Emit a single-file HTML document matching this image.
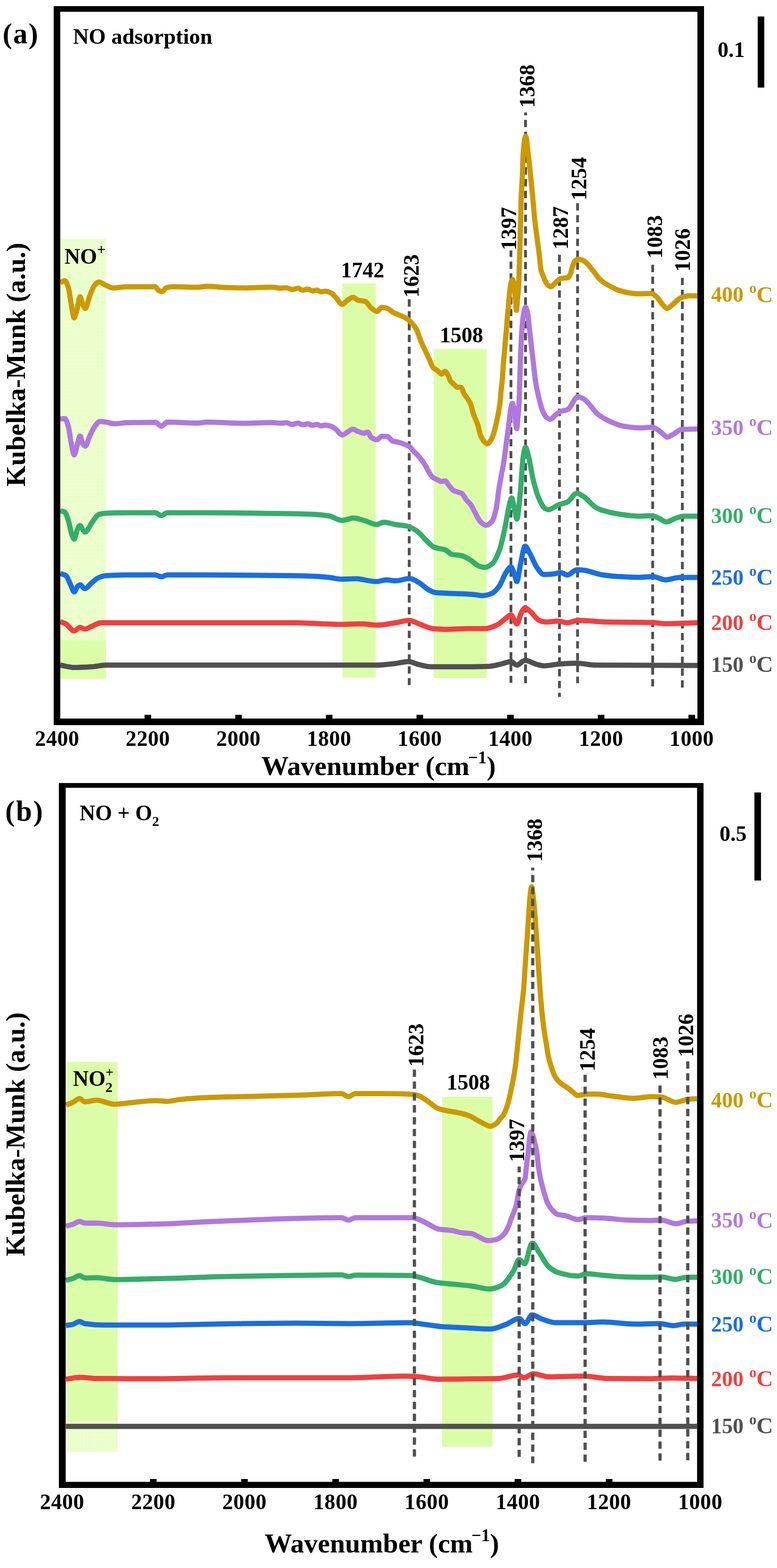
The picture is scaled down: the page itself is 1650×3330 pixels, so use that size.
<!DOCTYPE html><html><head><meta charset="utf-8"><title>Kubelka-Munk spectra</title><style>html,body{margin:0;padding:0;background:#fff;}svg{display:block;}text{font-family:"Liberation Serif","Times New Roman",serif;font-weight:bold;}</style></head><body>
<svg width="1650" height="3330" viewBox="0 0 1650 3330">
<defs><pattern id="dith" width="8" height="8" patternUnits="userSpaceOnUse"><rect width="8" height="8" fill="#fff"/><g fill="#dcfda8"><rect x="0" y="0" width="1" height="1"/><rect x="1" y="0" width="1" height="1"/><rect x="3" y="0" width="1" height="1"/><rect x="5" y="0" width="1" height="1"/><rect x="7" y="0" width="1" height="1"/><rect x="0" y="1" width="1" height="1"/><rect x="2" y="1" width="1" height="1"/><rect x="4" y="1" width="1" height="1"/><rect x="6" y="1" width="1" height="1"/><rect x="1" y="2" width="1" height="1"/><rect x="2" y="2" width="1" height="1"/><rect x="3" y="2" width="1" height="1"/><rect x="5" y="2" width="1" height="1"/><rect x="6" y="2" width="1" height="1"/><rect x="7" y="2" width="1" height="1"/><rect x="0" y="3" width="1" height="1"/><rect x="2" y="3" width="1" height="1"/><rect x="4" y="3" width="1" height="1"/><rect x="6" y="3" width="1" height="1"/><rect x="1" y="4" width="1" height="1"/><rect x="3" y="4" width="1" height="1"/><rect x="5" y="4" width="1" height="1"/><rect x="7" y="4" width="1" height="1"/><rect x="0" y="5" width="1" height="1"/><rect x="2" y="5" width="1" height="1"/><rect x="4" y="5" width="1" height="1"/><rect x="6" y="5" width="1" height="1"/><rect x="1" y="6" width="1" height="1"/><rect x="2" y="6" width="1" height="1"/><rect x="3" y="6" width="1" height="1"/><rect x="5" y="6" width="1" height="1"/><rect x="6" y="6" width="1" height="1"/><rect x="7" y="6" width="1" height="1"/><rect x="0" y="7" width="1" height="1"/><rect x="2" y="7" width="1" height="1"/><rect x="4" y="7" width="1" height="1"/><rect x="6" y="7" width="1" height="1"/></g></pattern><pattern id="dith2" x="6" y="4" width="8" height="8" patternUnits="userSpaceOnUse"><rect width="8" height="8" fill="#fff"/><g fill="#dcfda8"><rect x="0" y="0" width="1" height="1"/><rect x="1" y="0" width="1" height="1"/><rect x="3" y="0" width="1" height="1"/><rect x="5" y="0" width="1" height="1"/><rect x="7" y="0" width="1" height="1"/><rect x="0" y="1" width="1" height="1"/><rect x="2" y="1" width="1" height="1"/><rect x="4" y="1" width="1" height="1"/><rect x="6" y="1" width="1" height="1"/><rect x="1" y="2" width="1" height="1"/><rect x="2" y="2" width="1" height="1"/><rect x="3" y="2" width="1" height="1"/><rect x="5" y="2" width="1" height="1"/><rect x="6" y="2" width="1" height="1"/><rect x="7" y="2" width="1" height="1"/><rect x="0" y="3" width="1" height="1"/><rect x="2" y="3" width="1" height="1"/><rect x="4" y="3" width="1" height="1"/><rect x="6" y="3" width="1" height="1"/><rect x="1" y="4" width="1" height="1"/><rect x="3" y="4" width="1" height="1"/><rect x="5" y="4" width="1" height="1"/><rect x="7" y="4" width="1" height="1"/><rect x="0" y="5" width="1" height="1"/><rect x="2" y="5" width="1" height="1"/><rect x="4" y="5" width="1" height="1"/><rect x="6" y="5" width="1" height="1"/><rect x="1" y="6" width="1" height="1"/><rect x="2" y="6" width="1" height="1"/><rect x="3" y="6" width="1" height="1"/><rect x="5" y="6" width="1" height="1"/><rect x="6" y="6" width="1" height="1"/><rect x="7" y="6" width="1" height="1"/><rect x="0" y="7" width="1" height="1"/><rect x="2" y="7" width="1" height="1"/><rect x="4" y="7" width="1" height="1"/><rect x="6" y="7" width="1" height="1"/></g></pattern></defs>
<rect width="1650" height="3330" fill="#fff"/>
<rect x="128" y="507" width="97" height="853" fill="url(#dith)"/>
<rect x="128" y="1360" width="97" height="81.5" fill="#dcfda8"/>
<rect x="727" y="602" width="71" height="837" fill="#dcfda8"/>
<rect x="921" y="741" width="112" height="699" fill="#dcfda8"/>
<line x1="869.0" y1="635.6" x2="869.0" y2="1455.0" stroke="#505050" stroke-width="6" stroke-dasharray="15.60 9.54" stroke-dashoffset="0.00"/>
<line x1="1085.0" y1="532.0" x2="1085.0" y2="1450.0" stroke="#505050" stroke-width="6" stroke-dasharray="15.60 9.54" stroke-dashoffset="1.74"/>
<line x1="1116.0" y1="238.8" x2="1116.0" y2="1451.0" stroke="#505050" stroke-width="6" stroke-dasharray="15.60 9.54" stroke-dashoffset="9.43"/>
<line x1="1188.0" y1="540.0" x2="1188.0" y2="1480.0" stroke="#505050" stroke-width="6" stroke-dasharray="15.60 9.54" stroke-dashoffset="24.18"/>
<line x1="1226.5" y1="431.5" x2="1226.5" y2="1451.0" stroke="#505050" stroke-width="6" stroke-dasharray="15.60 9.54" stroke-dashoffset="0.00"/>
<line x1="1386.0" y1="562.3" x2="1386.0" y2="1457.8" stroke="#505050" stroke-width="6" stroke-dasharray="15.60 9.54" stroke-dashoffset="0.00"/>
<line x1="1449.0" y1="590.0" x2="1449.0" y2="1460.7" stroke="#505050" stroke-width="6" stroke-dasharray="15.60 9.54" stroke-dashoffset="0.00"/>
<g fill="none" stroke-width="11" stroke-linejoin="round" stroke-linecap="butt">
<path d="M128.0,1412.5 C137.83,1414.17 147.67,1417.50 157.50,1417.50 C170.00,1417.50 182.50,1416.76 195.00,1416.00 C205.00,1415.39 215.00,1412.50 225.00,1412.50 C396.67,1412.50 568.33,1412.50 740.00,1412.50 C760.00,1412.50 780.00,1412.50 800.00,1412.50 C813.33,1412.50 826.67,1410.48 840.00,1409.00 C849.17,1407.98 858.33,1405.00 867.50,1405.00 C875.00,1405.00 882.50,1409.83 890.00,1411.50 C898.33,1413.36 906.67,1416.00 915.00,1416.00 C940.00,1416.00 965.00,1416.00 990.00,1416.00 C1006.67,1416.00 1023.33,1415.67 1040.00,1415.00 C1048.33,1414.67 1056.67,1411.86 1065.00,1410.00 C1071.67,1408.51 1078.33,1405.00 1085.00,1405.00 C1089.17,1405.00 1093.33,1412.50 1097.50,1412.50 C1103.33,1412.50 1109.17,1402.50 1115.00,1402.50 C1123.33,1402.50 1131.67,1408.95 1140.00,1411.00 C1145.00,1412.23 1150.00,1414.00 1155.00,1414.00 C1166.67,1414.00 1178.33,1410.73 1190.00,1410.00 C1201.67,1409.27 1213.33,1408.50 1225.00,1408.50 C1238.33,1408.50 1251.67,1412.38 1265.00,1412.50 C1337.00,1413.15 1409.00,1413.03 1481.00,1413.30" stroke="#505050"/>
<path d="M128.0,1320.0 C132.00,1321.67 136.00,1322.80 140.00,1325.00 C145.83,1328.20 151.67,1340.00 157.50,1340.00 C161.67,1340.00 165.83,1332.50 170.00,1332.50 C173.33,1332.50 176.67,1336.00 180.00,1336.00 C185.00,1336.00 190.00,1331.94 195.00,1330.00 C201.67,1327.42 208.33,1322.50 215.00,1322.50 C225.00,1322.50 235.00,1322.50 245.00,1322.50 C370.00,1322.50 495.00,1322.50 620.00,1322.50 C655.00,1322.50 690.00,1326.00 725.00,1326.00 C736.00,1326.00 747.00,1325.00 758.00,1325.00 C762.00,1325.00 766.00,1325.00 770.00,1325.00 C780.00,1325.00 790.00,1327.50 800.00,1327.50 C813.33,1327.50 826.67,1324.45 840.00,1322.50 C849.67,1321.09 859.33,1317.50 869.00,1317.50 C876.00,1317.50 883.00,1322.58 890.00,1325.00 C900.00,1328.46 910.00,1334.13 920.00,1335.00 C930.00,1335.87 940.00,1336.50 950.00,1336.50 C963.33,1336.50 976.67,1335.00 990.00,1335.00 C1003.33,1335.00 1016.67,1335.00 1030.00,1335.00 C1038.33,1335.00 1046.67,1331.13 1055.00,1327.50 C1061.67,1324.60 1068.33,1317.11 1075.00,1312.50 C1078.33,1310.20 1081.67,1306.00 1085.00,1306.00 C1089.17,1306.00 1093.33,1325.00 1097.50,1325.00 C1100.83,1325.00 1104.17,1305.32 1107.50,1300.00 C1110.00,1296.01 1112.50,1291.00 1115.00,1291.00 C1119.17,1291.00 1123.33,1296.54 1127.50,1300.00 C1133.33,1304.84 1139.17,1315.33 1145.00,1317.50 C1150.00,1319.36 1155.00,1321.00 1160.00,1321.00 C1168.33,1321.00 1176.67,1319.00 1185.00,1319.00 C1191.67,1319.00 1198.33,1322.50 1205.00,1322.50 C1212.50,1322.50 1220.00,1317.50 1227.50,1317.50 C1248.33,1317.50 1269.17,1320.64 1290.00,1321.00 C1321.13,1321.54 1352.27,1321.27 1383.40,1321.90 C1393.20,1322.10 1403.00,1324.50 1412.80,1324.50 C1435.53,1324.50 1458.27,1323.10 1481.00,1322.40" stroke="#f04040"/>
<path d="M128.0,1218.0 C132.00,1219.50 136.00,1219.93 140.00,1222.50 C143.33,1224.64 146.67,1235.41 150.00,1242.00 C152.50,1246.94 155.00,1257.00 157.50,1257.00 C160.00,1257.00 162.50,1247.12 165.00,1245.00 C166.67,1243.59 168.33,1242.00 170.00,1242.00 C173.33,1242.00 176.67,1250.00 180.00,1250.00 C185.00,1250.00 190.00,1241.40 195.00,1237.50 C200.00,1233.60 205.00,1228.46 210.00,1226.50 C215.00,1224.54 220.00,1222.84 225.00,1222.50 C240.00,1221.48 255.00,1221.00 270.00,1221.00 C290.00,1221.00 310.00,1221.00 330.00,1221.00 C334.17,1221.00 338.33,1225.00 342.50,1225.00 C346.67,1225.00 350.83,1221.00 355.00,1221.00 C383.33,1221.00 411.67,1221.00 440.00,1221.00 C500.00,1221.00 560.00,1221.62 620.00,1222.50 C636.67,1222.74 653.33,1223.23 670.00,1224.00 C680.00,1224.46 690.00,1225.45 700.00,1226.50 C708.33,1227.38 716.67,1230.00 725.00,1230.00 C736.00,1230.00 747.00,1229.00 758.00,1229.00 C760.33,1229.00 762.67,1229.67 765.00,1230.00 C776.67,1231.67 788.33,1235.00 800.00,1235.00 C806.67,1235.00 813.33,1231.50 820.00,1231.50 C826.67,1231.50 833.33,1233.50 840.00,1233.50 C850.00,1233.50 860.00,1228.50 870.00,1228.50 C876.67,1228.50 883.33,1233.75 890.00,1237.50 C896.67,1241.25 903.33,1249.07 910.00,1252.50 C915.00,1255.07 920.00,1257.94 925.00,1258.50 C933.33,1259.43 941.67,1259.64 950.00,1260.00 C960.00,1260.43 970.00,1260.57 980.00,1261.00 C988.33,1261.36 996.67,1261.82 1005.00,1262.50 C1011.67,1263.05 1018.33,1265.00 1025.00,1265.00 C1031.67,1265.00 1038.33,1262.75 1045.00,1260.00 C1050.00,1257.94 1055.00,1251.67 1060.00,1245.00 C1065.00,1238.33 1070.00,1221.96 1075.00,1215.00 C1078.33,1210.36 1081.67,1204.00 1085.00,1204.00 C1087.50,1204.00 1090.00,1213.70 1092.50,1220.00 C1094.17,1224.20 1095.83,1235.00 1097.50,1235.00 C1100.00,1235.00 1102.50,1210.81 1105.00,1200.00 C1108.33,1185.59 1111.67,1160.00 1115.00,1160.00 C1118.33,1160.00 1121.67,1169.34 1125.00,1175.00 C1130.00,1183.49 1135.00,1198.33 1140.00,1205.00 C1145.00,1211.67 1150.00,1220.00 1155.00,1220.00 C1161.67,1220.00 1168.33,1219.55 1175.00,1219.00 C1180.00,1218.59 1185.00,1216.00 1190.00,1216.00 C1195.00,1216.00 1200.00,1221.00 1205.00,1221.00 C1211.67,1221.00 1218.33,1210.00 1225.00,1210.00 C1230.00,1210.00 1235.00,1210.49 1240.00,1211.00 C1248.33,1211.84 1256.67,1215.46 1265.00,1217.50 C1270.00,1218.72 1275.00,1220.25 1280.00,1221.00 C1291.50,1222.71 1303.00,1223.84 1314.50,1224.50 C1328.87,1225.33 1343.23,1226.20 1357.60,1226.20 C1367.37,1226.20 1377.13,1224.50 1386.90,1224.50 C1395.53,1224.50 1404.17,1231.40 1412.80,1231.40 C1423.13,1231.40 1433.47,1226.20 1443.80,1226.20 C1456.20,1226.20 1468.60,1226.20 1481.00,1226.20" stroke="#1a6ee0"/>
<path d="M128.0,1085.0 C131.17,1085.83 134.33,1085.95 137.50,1087.50 C140.00,1088.72 142.50,1097.63 145.00,1105.00 C147.50,1112.37 150.00,1128.48 152.50,1135.00 C154.17,1139.35 155.83,1145.00 157.50,1145.00 C159.67,1145.00 161.83,1129.35 164.00,1125.00 C166.00,1120.98 168.00,1116.00 170.00,1116.00 C172.00,1116.00 174.00,1122.61 176.00,1125.00 C177.67,1126.99 179.33,1130.00 181.00,1130.00 C185.67,1130.00 190.33,1116.00 195.00,1110.00 C200.00,1103.57 205.00,1093.96 210.00,1092.50 C215.00,1091.04 220.00,1090.22 225.00,1090.00 C240.00,1089.33 255.00,1089.00 270.00,1089.00 C290.00,1089.00 310.00,1089.00 330.00,1089.00 C334.17,1089.00 338.33,1095.00 342.50,1095.00 C346.67,1095.00 350.83,1089.00 355.00,1089.00 C383.33,1089.00 411.67,1089.00 440.00,1089.00 C500.00,1089.00 560.00,1089.93 620.00,1091.00 C636.67,1091.30 653.33,1091.66 670.00,1092.50 C680.00,1093.00 690.00,1094.21 700.00,1096.00 C708.33,1097.49 716.67,1105.00 725.00,1105.00 C730.00,1105.00 735.00,1103.51 740.00,1102.50 C743.33,1101.82 746.67,1100.00 750.00,1100.00 C758.33,1100.00 766.67,1103.71 775.00,1106.00 C783.33,1108.29 791.67,1114.00 800.00,1114.00 C805.00,1114.00 810.00,1109.00 815.00,1109.00 C823.33,1109.00 831.67,1112.63 840.00,1114.00 C848.33,1115.37 856.67,1115.64 865.00,1117.50 C871.67,1118.99 878.33,1123.06 885.00,1127.50 C891.67,1131.94 898.33,1141.36 905.00,1147.50 C910.83,1152.88 916.67,1160.39 922.50,1162.50 C930.00,1165.21 937.50,1164.91 945.00,1167.50 C950.00,1169.22 955.00,1176.41 960.00,1177.50 C966.67,1178.95 973.33,1178.67 980.00,1180.00 C986.67,1181.33 993.33,1186.06 1000.00,1190.00 C1005.83,1193.44 1011.67,1200.73 1017.50,1202.50 C1021.67,1203.76 1025.83,1205.00 1030.00,1205.00 C1035.00,1205.00 1040.00,1201.43 1045.00,1197.50 C1050.00,1193.57 1055.00,1182.71 1060.00,1170.00 C1064.17,1159.40 1068.33,1139.28 1072.50,1120.00 C1075.00,1108.43 1077.50,1090.44 1080.00,1080.00 C1082.17,1070.95 1084.33,1057.50 1086.50,1057.50 C1088.50,1057.50 1090.50,1071.80 1092.50,1080.00 C1094.17,1086.84 1095.83,1102.50 1097.50,1102.50 C1100.00,1102.50 1102.50,1068.97 1105.00,1045.00 C1107.00,1025.82 1109.00,981.93 1111.00,970.00 C1112.67,960.05 1114.33,950.00 1116.00,950.00 C1118.17,950.00 1120.33,961.88 1122.50,970.00 C1125.83,982.49 1129.17,1006.89 1132.50,1020.00 C1136.67,1036.39 1140.83,1051.11 1145.00,1060.00 C1149.17,1068.89 1153.33,1077.82 1157.50,1080.00 C1160.00,1081.31 1162.50,1082.50 1165.00,1082.50 C1171.67,1082.50 1178.33,1075.13 1185.00,1072.50 C1191.67,1069.87 1198.33,1069.21 1205.00,1066.00 C1211.67,1062.79 1218.33,1047.50 1225.00,1047.50 C1230.00,1047.50 1235.00,1051.86 1240.00,1055.00 C1248.33,1060.23 1256.67,1072.76 1265.00,1077.50 C1270.00,1080.34 1275.00,1082.44 1280.00,1084.00 C1291.50,1087.59 1303.00,1090.28 1314.50,1091.90 C1328.87,1093.93 1343.23,1096.20 1357.60,1096.20 C1366.20,1096.20 1374.80,1095.30 1383.40,1095.30 C1389.17,1095.30 1394.93,1099.00 1400.70,1101.40 C1405.30,1103.31 1409.90,1108.30 1414.50,1108.30 C1421.40,1108.30 1428.30,1102.56 1435.20,1100.50 C1440.93,1098.79 1446.67,1096.20 1452.40,1096.20 C1461.93,1096.20 1471.47,1096.20 1481.00,1096.20" stroke="#36ad6b"/>
<path d="M128.0,890.0 C131.17,889.67 134.33,889.00 137.50,889.00 C140.00,889.00 142.50,897.05 145.00,905.00 C147.00,911.36 149.00,930.48 151.00,940.00 C153.17,950.31 155.33,966.00 157.50,966.00 C159.67,966.00 161.83,951.93 164.00,945.00 C166.00,938.60 168.00,926.00 170.00,926.00 C172.00,926.00 174.00,939.61 176.00,942.50 C177.67,944.91 179.33,947.50 181.00,947.50 C184.00,947.50 187.00,933.82 190.00,927.50 C193.33,920.48 196.67,912.00 200.00,907.50 C204.17,901.88 208.33,895.00 212.50,895.00 C216.67,895.00 220.83,895.92 225.00,896.50 C231.67,897.44 238.33,900.00 245.00,900.00 C253.33,900.00 261.67,897.65 270.00,897.50 C290.00,897.15 310.00,897.00 330.00,897.00 C334.17,897.00 338.33,905.00 342.50,905.00 C346.67,905.00 350.83,896.50 355.00,896.50 C376.67,896.50 398.33,898.50 420.00,898.50 C426.67,898.50 433.33,896.50 440.00,896.50 C466.67,896.50 493.33,899.00 520.00,899.00 C536.67,899.00 553.33,897.50 570.00,897.50 C573.33,897.50 576.67,897.55 580.00,897.60 C585.87,897.69 591.73,898.70 597.60,898.70 C600.93,898.70 604.27,897.80 607.60,897.80 C611.77,897.80 615.93,901.30 620.10,901.30 C624.30,901.30 628.50,898.60 632.70,898.60 C636.03,898.60 639.37,902.00 642.70,902.00 C646.47,902.00 650.23,900.10 654.00,900.10 C656.93,900.10 659.87,903.30 662.80,903.30 C666.13,903.30 669.47,901.40 672.80,901.40 C675.73,901.40 678.67,904.50 681.60,904.50 C684.50,904.50 687.40,902.80 690.30,902.80 C694.50,902.80 698.70,903.89 702.90,905.10 C706.23,906.06 709.57,908.95 712.90,911.40 C717.50,914.79 722.10,923.90 726.70,923.90 C730.47,923.90 734.23,919.68 738.00,917.60 C741.77,915.52 745.53,911.40 749.30,911.40 C753.07,911.40 756.83,915.04 760.60,916.40 C764.77,917.91 768.93,920.20 773.10,920.20 C775.60,920.20 778.10,917.60 780.60,917.60 C783.13,917.60 785.67,927.20 788.20,928.90 C792.37,931.70 796.53,934.00 800.70,934.00 C804.03,934.00 807.37,926.40 810.70,926.40 C814.90,926.40 819.10,926.68 823.30,927.20 C826.63,927.61 829.97,935.38 833.30,936.50 C837.47,937.91 841.63,937.95 845.80,939.00 C850.87,940.28 855.93,942.17 861.00,944.30 C863.90,945.52 866.80,946.68 869.70,948.70 C872.63,950.74 875.57,955.41 878.50,958.50 C881.80,961.98 885.10,964.73 888.40,968.40 C891.33,971.67 894.27,975.32 897.20,979.40 C899.77,982.97 902.33,986.99 904.90,991.40 C906.93,994.90 908.97,999.77 911.00,1003.00 C913.60,1007.13 916.20,1011.49 918.80,1013.50 C921.73,1015.76 924.67,1016.78 927.60,1018.20 C930.93,1019.81 934.27,1022.60 937.60,1022.60 C940.10,1022.60 942.60,1021.30 945.10,1021.30 C947.63,1021.30 950.17,1027.20 952.70,1030.10 C956.03,1033.91 959.37,1039.50 962.70,1041.40 C966.03,1043.30 969.37,1044.03 972.70,1045.20 C975.23,1046.09 977.77,1046.39 980.30,1047.70 C983.63,1049.42 986.97,1057.36 990.30,1061.50 C993.63,1065.64 996.97,1068.10 1000.30,1072.80 C1003.23,1076.94 1006.17,1083.82 1009.10,1089.10 C1012.43,1095.10 1015.77,1103.22 1019.10,1106.60 C1023.30,1110.86 1027.50,1115.40 1031.70,1115.40 C1035.87,1115.40 1040.03,1112.17 1044.20,1107.90 C1047.53,1104.48 1050.87,1092.85 1054.20,1077.80 C1055.87,1070.28 1057.53,1051.02 1059.20,1040.20 C1060.97,1028.73 1062.73,1019.85 1064.50,1010.00 C1066.33,999.78 1068.17,991.55 1070.00,980.00 C1072.17,966.35 1074.33,947.20 1076.50,931.00 C1077.67,922.28 1078.83,914.11 1080.00,905.00 C1081.33,894.59 1082.67,879.03 1084.00,872.00 C1085.33,864.97 1086.67,856.50 1088.00,856.50 C1089.33,856.50 1090.67,863.87 1092.00,870.00 C1093.77,878.13 1095.53,910.50 1097.30,910.50 C1098.20,910.50 1099.10,894.57 1100.00,885.00 C1100.67,877.91 1101.33,872.48 1102.00,861.00 C1102.53,851.82 1103.07,831.06 1103.60,814.80 C1104.20,796.50 1104.80,771.37 1105.40,756.50 C1106.40,731.72 1107.40,711.50 1108.40,698.30 C1109.27,686.86 1110.13,677.12 1111.00,672.00 C1112.67,662.16 1114.33,652.50 1116.00,652.50 C1117.67,652.50 1119.33,659.92 1121.00,668.00 C1122.07,673.17 1123.13,688.65 1124.20,698.30 C1126.47,718.80 1128.73,737.36 1131.00,756.50 C1133.33,776.20 1135.67,800.93 1138.00,814.80 C1140.53,829.86 1143.07,839.70 1145.60,849.70 C1147.73,858.12 1149.87,866.97 1152.00,872.00 C1154.67,878.29 1157.33,883.80 1160.00,886.00 C1162.80,888.31 1165.60,890.50 1168.40,890.50 C1172.27,890.50 1176.13,883.91 1180.00,881.00 C1183.33,878.49 1186.67,875.33 1190.00,874.00 C1195.00,872.01 1200.00,872.10 1205.00,870.00 C1212.50,866.85 1220.00,842.50 1227.50,842.50 C1231.67,842.50 1235.83,845.21 1240.00,847.50 C1250.00,853.00 1260.00,872.21 1270.00,880.00 C1276.67,885.19 1283.33,889.07 1290.00,892.50 C1293.33,894.21 1296.67,895.69 1300.00,897.00 C1307.83,900.07 1315.67,903.57 1323.50,904.90 C1335.53,906.94 1347.57,908.80 1359.60,908.80 C1367.93,908.80 1376.27,907.20 1384.60,907.20 C1388.80,907.20 1393.00,910.26 1397.20,912.70 C1400.33,914.52 1403.47,917.99 1406.60,920.50 C1410.00,923.23 1413.40,928.40 1416.80,928.40 C1421.20,928.40 1425.60,924.32 1430.00,922.00 C1435.77,918.96 1441.53,912.23 1447.30,911.90 C1458.53,911.26 1469.77,911.30 1481.00,911.00" stroke="#b078de"/>
<path d="M128.0,600.5 C131.17,599.00 134.33,596.00 137.50,596.00 C140.00,596.00 142.50,602.79 145.00,610.00 C147.00,615.77 149.00,634.68 151.00,645.00 C153.17,656.18 155.33,675.00 157.50,675.00 C159.67,675.00 161.83,662.69 164.00,655.00 C166.00,647.91 168.00,630.00 170.00,630.00 C172.00,630.00 174.00,642.94 176.00,647.00 C177.67,650.38 179.33,655.00 181.00,655.00 C184.00,655.00 187.00,637.56 190.00,630.00 C193.33,621.60 196.67,610.96 200.00,607.00 C203.33,603.04 206.67,599.00 210.00,599.00 C215.00,599.00 220.00,603.95 225.00,606.00 C230.00,608.05 235.00,611.50 240.00,611.50 C250.00,611.50 260.00,609.00 270.00,609.00 C290.00,609.00 310.00,609.00 330.00,609.00 C332.50,609.00 335.00,616.65 337.50,617.50 C340.00,618.35 342.50,619.00 345.00,619.00 C347.50,619.00 350.00,612.38 352.50,611.50 C356.67,610.03 360.83,609.00 365.00,609.00 C383.33,609.00 401.67,610.00 420.00,610.00 C426.67,610.00 433.33,608.00 440.00,608.00 C450.00,608.00 460.00,609.57 470.00,610.00 C486.67,610.71 503.33,611.50 520.00,611.50 C536.67,611.50 553.33,610.00 570.00,610.00 C573.33,610.00 576.67,610.00 580.00,610.00 C585.00,610.00 590.00,612.00 595.00,612.00 C599.20,612.00 603.40,611.20 607.60,611.20 C612.20,611.20 616.80,614.90 621.40,614.90 C625.17,614.90 628.93,612.00 632.70,612.00 C636.03,612.00 639.37,616.20 642.70,616.20 C646.47,616.20 650.23,613.90 654.00,613.90 C657.33,613.90 660.67,617.90 664.00,617.90 C666.93,617.90 669.87,616.10 672.80,616.10 C675.73,616.10 678.67,619.80 681.60,619.80 C684.50,619.80 687.40,618.60 690.30,618.60 C694.50,618.60 698.70,620.27 702.90,622.10 C706.23,623.56 709.57,628.07 712.90,631.40 C717.50,635.99 722.10,646.40 726.70,646.40 C730.47,646.40 734.23,640.02 738.00,637.60 C741.77,635.18 745.53,631.40 749.30,631.40 C753.07,631.40 756.83,636.58 760.60,637.60 C765.60,638.95 770.60,638.67 775.60,640.20 C779.80,641.48 784.00,650.75 788.20,654.00 C792.37,657.23 796.53,661.50 800.70,661.50 C804.03,661.50 807.37,652.70 810.70,652.70 C814.90,652.70 819.10,653.90 823.30,655.20 C827.47,656.49 831.63,661.79 835.80,664.00 C840.80,666.65 845.80,668.03 850.80,670.30 C855.00,672.21 859.20,673.82 863.40,676.50 C867.57,679.16 871.73,683.24 875.90,687.80 C878.40,690.54 880.90,693.49 883.40,697.80 C886.97,703.95 890.53,717.00 894.10,725.30 C897.40,732.98 900.70,739.27 904.00,746.40 C906.80,752.45 909.60,758.68 912.40,764.80 C914.77,769.98 917.13,777.70 919.50,780.30 C922.80,783.93 926.10,784.75 929.40,787.30 C932.20,789.46 935.00,794.40 937.80,794.40 C940.17,794.40 942.53,788.70 944.90,788.70 C947.23,788.70 949.57,793.21 951.90,797.20 C953.33,799.65 954.77,806.30 956.20,808.50 C959.00,812.80 961.80,814.53 964.60,817.00 C966.97,819.09 969.33,822.60 971.70,822.60 C974.03,822.60 976.37,822.60 978.70,822.60 C981.07,822.60 983.43,832.82 985.80,836.70 C988.17,840.58 990.53,842.87 992.90,846.60 C995.23,850.28 997.57,853.53 999.90,859.30 C1001.60,863.50 1003.30,872.81 1005.00,878.00 C1008.20,887.77 1011.40,892.42 1014.60,902.30 C1016.47,908.06 1018.33,918.71 1020.20,923.50 C1022.47,929.32 1024.73,933.91 1027.00,936.50 C1029.57,939.43 1032.13,942.70 1034.70,942.70 C1036.80,942.70 1038.90,939.66 1041.00,937.00 C1043.13,934.30 1045.27,929.32 1047.40,923.50 C1049.27,918.41 1051.13,910.07 1053.00,902.30 C1054.53,895.92 1056.07,889.30 1057.60,881.20 C1059.00,873.81 1060.40,866.78 1061.80,855.20 C1062.53,849.14 1063.27,837.58 1064.00,830.20 C1064.93,820.80 1065.87,816.02 1066.80,805.10 C1067.33,798.86 1067.87,787.15 1068.40,780.00 C1069.27,768.38 1070.13,760.35 1071.00,750.20 C1071.70,742.00 1072.40,733.09 1073.10,725.10 C1073.87,716.35 1074.63,709.11 1075.40,700.00 C1076.17,690.89 1076.93,679.09 1077.70,670.00 C1078.47,660.91 1079.23,653.31 1080.00,645.00 C1080.83,635.97 1081.67,625.03 1082.50,618.00 C1083.27,611.53 1084.03,604.76 1084.80,602.00 C1086.03,597.57 1087.27,593.50 1088.50,593.50 C1089.83,593.50 1091.17,601.90 1092.50,610.00 C1093.90,618.50 1095.30,659.00 1096.70,659.00 C1097.47,659.00 1098.23,643.42 1099.00,635.00 C1099.83,625.85 1100.67,621.05 1101.50,606.00 C1101.83,599.98 1102.17,585.51 1102.50,575.00 C1102.90,562.39 1103.30,549.95 1103.70,536.50 C1104.07,524.17 1104.43,511.28 1104.80,497.70 C1105.13,485.36 1105.47,472.44 1105.80,458.80 C1106.10,446.52 1106.40,428.29 1106.70,420.00 C1107.57,396.04 1108.43,391.46 1109.30,372.00 C1109.87,359.28 1110.43,331.82 1111.00,325.00 C1112.77,303.72 1114.53,289.50 1116.30,289.50 C1118.03,289.50 1119.77,311.40 1121.50,325.00 C1123.20,338.34 1124.90,355.69 1126.60,372.00 C1128.20,387.35 1129.80,402.62 1131.40,420.00 C1132.50,431.95 1133.60,448.00 1134.70,458.80 C1136.27,474.18 1137.83,485.39 1139.40,497.70 C1141.13,511.32 1142.87,522.90 1144.60,536.50 C1146.17,548.79 1147.73,569.19 1149.30,575.30 C1150.73,580.89 1152.17,582.83 1153.60,586.40 C1155.07,590.06 1156.53,594.17 1158.00,597.00 C1159.67,600.22 1161.33,603.56 1163.00,605.00 C1165.33,607.02 1167.67,609.00 1170.00,609.00 C1172.00,609.00 1174.00,605.82 1176.00,604.00 C1178.10,602.09 1180.20,599.49 1182.30,597.70 C1185.13,595.29 1187.97,592.15 1190.80,591.50 C1193.20,590.95 1195.60,590.71 1198.00,590.50 C1200.60,590.27 1203.20,590.34 1205.80,590.00 C1207.70,589.75 1209.60,585.30 1211.50,581.00 C1212.73,578.21 1213.97,571.38 1215.20,567.60 C1216.80,562.70 1218.40,556.51 1220.00,555.00 C1222.80,552.35 1225.60,550.50 1228.40,550.50 C1231.83,550.50 1235.27,552.03 1238.70,553.50 C1241.87,554.86 1245.03,557.90 1248.20,561.00 C1250.70,563.44 1253.20,567.33 1255.70,570.40 C1257.80,572.98 1259.90,575.31 1262.00,578.00 C1264.67,581.42 1267.33,586.03 1270.00,589.00 C1274.00,593.46 1278.00,597.15 1282.00,600.00 C1286.00,602.85 1290.00,604.84 1294.00,607.00 C1299.33,609.88 1304.67,613.09 1310.00,615.00 C1318.67,618.11 1327.33,620.78 1336.00,622.00 C1342.80,622.96 1349.60,624.00 1356.40,624.00 C1365.50,624.00 1374.60,623.20 1383.70,623.20 C1387.67,623.20 1391.63,627.99 1395.60,631.70 C1399.03,634.91 1402.47,641.84 1405.90,645.40 C1409.60,649.24 1413.30,654.80 1417.00,654.80 C1421.27,654.80 1425.53,648.72 1429.80,645.40 C1434.93,641.40 1440.07,634.60 1445.20,632.60 C1450.90,630.38 1456.60,628.30 1462.30,628.30 C1468.53,628.30 1474.77,628.30 1481.00,628.30" stroke="#cc9900"/>
</g>
<path d="M114,13H1495V1540H114Z M128,25V1526H1481V25Z" fill="#000" fill-rule="evenodd"/>
<rect x="307.0" y="1518" width="14" height="8" fill="#000"/>
<rect x="499.5" y="1518" width="14" height="8" fill="#000"/>
<rect x="692.0" y="1518" width="14" height="8" fill="#000"/>
<rect x="884.5" y="1518" width="14" height="8" fill="#000"/>
<rect x="1077.0" y="1518" width="14" height="8" fill="#000"/>
<rect x="1269.5" y="1518" width="14" height="8" fill="#000"/>
<rect x="1462.0" y="1518" width="14" height="8" fill="#000"/>
<text x="121.5" y="1583.9" font-size="46" text-anchor="middle" letter-spacing="0.6">2400</text>
<text x="314.0" y="1583.9" font-size="46" text-anchor="middle" letter-spacing="0.6">2200</text>
<text x="506.5" y="1583.9" font-size="46" text-anchor="middle" letter-spacing="0.6">2000</text>
<text x="699.0" y="1583.9" font-size="46" text-anchor="middle" letter-spacing="0.6">1800</text>
<text x="891.5" y="1583.9" font-size="46" text-anchor="middle" letter-spacing="0.6">1600</text>
<text x="1084.0" y="1583.9" font-size="46" text-anchor="middle" letter-spacing="0.6">1400</text>
<text x="1276.5" y="1583.9" font-size="46" text-anchor="middle" letter-spacing="0.6">1200</text>
<text x="1469.0" y="1583.9" font-size="46" text-anchor="middle" letter-spacing="0.6">1000</text>
<text x="5.6" y="92.3" font-size="61" letter-spacing="2.1">(a)</text>
<text x="155.0" y="92.5" font-size="46.5">NO adsorption</text>
<text x="137" y="559.5" font-size="46">NO<tspan font-size="32" dy="-19.3">+</tspan></text>
<text x="770.0" y="589.4" font-size="46" text-anchor="middle">1742</text>
<text x="980.0" y="726.8" font-size="46" text-anchor="middle">1508</text>
<text transform="translate(889.4 632.0) rotate(-90)" font-size="46">1623</text>
<text transform="translate(1096.0 531.6) rotate(-90)" font-size="46">1397</text>
<text transform="translate(1135.0 229.0) rotate(-90)" font-size="46">1368</text>
<text transform="translate(1206.0 530.0) rotate(-90)" font-size="46">1287</text>
<text transform="translate(1245.0 425.5) rotate(-90)" font-size="46">1254</text>
<text transform="translate(1406.0 548.9) rotate(-90)" font-size="46">1083</text>
<text transform="translate(1465.0 577.0) rotate(-90)" font-size="46">1026</text>
<rect x="1609" y="35" width="14" height="151" fill="#000"/>
<text x="1524.0" y="121.0" font-size="46">0.1</text>
<text x="1510.0" y="641.0" font-size="46" fill="#cc9900">400</text><text x="1591.0" y="622.3" font-size="31" fill="#cc9900">o</text><text x="1606.3" y="641.5" font-size="49" fill="#cc9900">C</text>
<text x="1510.0" y="923.6" font-size="46" fill="#b078de">350</text><text x="1591.0" y="904.9" font-size="31" fill="#b078de">o</text><text x="1606.3" y="924.1" font-size="49" fill="#b078de">C</text>
<text x="1510.0" y="1110.7" font-size="46" fill="#36ad6b">300</text><text x="1591.0" y="1092.0" font-size="31" fill="#36ad6b">o</text><text x="1606.3" y="1111.2" font-size="49" fill="#36ad6b">C</text>
<text x="1510.0" y="1241.6" font-size="46" fill="#1a6ee0">250</text><text x="1591.0" y="1222.9" font-size="31" fill="#1a6ee0">o</text><text x="1606.3" y="1242.1" font-size="49" fill="#1a6ee0">C</text>
<text x="1510.0" y="1337.7" font-size="46" fill="#f04040">200</text><text x="1591.0" y="1319.0" font-size="31" fill="#f04040">o</text><text x="1606.3" y="1338.2" font-size="49" fill="#f04040">C</text>
<text x="1510.0" y="1426.7" font-size="46" fill="#505050">150</text><text x="1591.0" y="1408.0" font-size="31" fill="#505050">o</text><text x="1606.3" y="1427.2" font-size="49" fill="#505050">C</text>
<text x="555" y="1645.6" font-size="58">Wavenumber (cm<tspan font-size="37" dx="-3" dy="-24.5">−1</tspan><tspan dy="24.5">)</tspan></text>
<text transform="translate(52.5 1033.3) rotate(-90)" font-size="57">Kubelka-Munk (a.u.)</text>
<rect x="142" y="2255" width="108" height="763" fill="#dcfda8"/>
<rect x="142" y="3018" width="108" height="65" fill="url(#dith2)"/>
<rect x="939" y="2329" width="107" height="743.5" fill="#dcfda8"/>
<g fill="none" stroke-width="11" stroke-linejoin="round" stroke-linecap="butt">
<path d="M140.0,3029.3 L1480.0,3029.3" stroke="#505050"/>
<path d="M140.0,2929.0 C149.67,2927.67 159.33,2925.00 169.00,2925.00 C181.00,2925.00 193.00,2927.39 205.00,2927.50 C246.67,2927.88 288.33,2928.00 330.00,2928.00 C380.00,2928.00 430.00,2926.00 480.00,2926.00 C566.67,2926.00 653.33,2926.00 740.00,2926.00 C780.00,2926.00 820.00,2922.50 860.00,2922.50 C870.00,2922.50 880.00,2923.30 890.00,2924.00 C903.33,2924.93 916.67,2929.00 930.00,2929.00 C950.00,2929.00 970.00,2928.71 990.00,2928.50 C1013.33,2928.26 1036.67,2928.17 1060.00,2927.50 C1073.33,2927.12 1086.67,2920.00 1100.00,2920.00 C1104.17,2920.00 1108.33,2926.00 1112.50,2926.00 C1119.17,2926.00 1125.83,2917.50 1132.50,2917.50 C1143.33,2917.50 1154.17,2924.00 1165.00,2924.00 C1190.00,2924.00 1215.00,2922.50 1240.00,2922.50 C1256.67,2922.50 1273.33,2927.30 1290.00,2927.50 C1319.33,2927.84 1348.67,2928.00 1378.00,2928.00 C1394.20,2928.00 1410.40,2926.50 1426.60,2926.50 C1444.40,2926.50 1462.20,2927.10 1480.00,2927.40" stroke="#f04040"/>
<path d="M140.0,2815.0 C145.00,2814.17 150.00,2813.71 155.00,2812.50 C159.67,2811.37 164.33,2806.50 169.00,2806.50 C172.67,2806.50 176.33,2810.47 180.00,2811.00 C193.33,2812.94 206.67,2814.00 220.00,2814.00 C256.67,2814.00 293.33,2814.00 330.00,2814.00 C380.00,2814.00 430.00,2812.12 480.00,2811.50 C530.00,2810.88 580.00,2810.00 630.00,2810.00 C666.67,2810.00 703.33,2811.00 740.00,2811.00 C785.00,2811.00 830.00,2809.00 875.00,2809.00 C880.00,2809.00 885.00,2810.34 890.00,2811.00 C906.67,2813.20 923.33,2816.30 940.00,2817.50 C956.67,2818.70 973.33,2819.17 990.00,2820.00 C1006.67,2820.83 1023.33,2822.50 1040.00,2822.50 C1051.67,2822.50 1063.33,2816.63 1075.00,2812.50 C1084.17,2809.25 1093.33,2800.00 1102.50,2800.00 C1106.67,2800.00 1110.83,2811.00 1115.00,2811.00 C1120.00,2811.00 1125.00,2792.50 1130.00,2792.50 C1136.67,2792.50 1143.33,2798.78 1150.00,2801.00 C1160.00,2804.33 1170.00,2809.00 1180.00,2809.00 C1200.00,2809.00 1220.00,2809.00 1240.00,2809.00 C1253.33,2809.00 1266.67,2807.60 1280.00,2807.60 C1303.00,2807.60 1326.00,2812.00 1349.00,2812.00 C1366.23,2812.00 1383.47,2811.00 1400.70,2811.00 C1410.47,2811.00 1420.23,2815.30 1430.00,2815.30 C1437.47,2815.30 1444.93,2812.00 1452.40,2812.00 C1461.60,2812.00 1470.80,2812.00 1480.00,2812.00" stroke="#1a6ee0"/>
<path d="M140.0,2719.0 C145.00,2717.67 150.00,2716.65 155.00,2715.00 C159.67,2713.46 164.33,2709.00 169.00,2709.00 C172.67,2709.00 176.33,2714.00 180.00,2714.00 C188.33,2714.00 196.67,2713.50 205.00,2713.50 C218.33,2713.50 231.67,2717.50 245.00,2717.50 C281.67,2717.50 318.33,2715.97 355.00,2715.00 C396.67,2713.90 438.33,2711.92 480.00,2711.00 C530.00,2709.89 580.00,2709.13 630.00,2708.50 C661.67,2708.10 693.33,2707.50 725.00,2707.50 C730.00,2707.50 735.00,2711.00 740.00,2711.00 C745.00,2711.00 750.00,2708.00 755.00,2708.00 C795.00,2708.00 835.00,2708.15 875.00,2709.00 C880.00,2709.11 885.00,2711.23 890.00,2712.50 C903.33,2715.88 916.67,2722.04 930.00,2724.00 C941.67,2725.71 953.33,2726.33 965.00,2727.50 C976.67,2728.67 988.33,2729.56 1000.00,2731.00 C1013.33,2732.64 1026.67,2737.50 1040.00,2737.50 C1048.33,2737.50 1056.67,2734.00 1065.00,2730.00 C1073.33,2726.00 1081.67,2712.86 1090.00,2700.00 C1094.17,2693.57 1098.33,2675.00 1102.50,2675.00 C1106.33,2675.00 1110.17,2684.00 1114.00,2684.00 C1119.33,2684.00 1124.67,2640.00 1130.00,2640.00 C1135.00,2640.00 1140.00,2652.96 1145.00,2660.00 C1151.67,2669.39 1158.33,2684.12 1165.00,2690.00 C1171.67,2695.88 1178.33,2700.53 1185.00,2702.50 C1199.17,2706.68 1213.33,2710.00 1227.50,2710.00 C1233.33,2710.00 1239.17,2705.00 1245.00,2705.00 C1256.67,2705.00 1268.33,2707.34 1280.00,2708.30 C1297.23,2709.71 1314.47,2711.66 1331.70,2712.00 C1348.93,2712.34 1366.17,2712.60 1383.40,2712.60 C1390.27,2712.60 1397.13,2711.70 1404.00,2711.70 C1413.80,2711.70 1423.60,2716.90 1433.40,2716.90 C1442.03,2716.90 1450.67,2712.60 1459.30,2712.60 C1466.20,2712.60 1473.10,2712.60 1480.00,2712.60" stroke="#36ad6b"/>
<path d="M140.0,2604.0 C145.00,2602.67 150.00,2601.65 155.00,2600.00 C159.67,2598.46 164.33,2594.00 169.00,2594.00 C172.67,2594.00 176.33,2597.50 180.00,2597.50 C188.33,2597.50 196.67,2597.50 205.00,2597.50 C218.33,2597.50 231.67,2601.00 245.00,2601.00 C281.67,2601.00 318.33,2600.03 355.00,2599.00 C380.00,2598.30 405.00,2596.15 430.00,2595.00 C463.33,2593.47 496.67,2592.24 530.00,2591.00 C563.33,2589.76 596.67,2588.22 630.00,2587.50 C661.67,2586.81 693.33,2586.00 725.00,2586.00 C730.00,2586.00 735.00,2591.00 740.00,2591.00 C745.00,2591.00 750.00,2586.00 755.00,2586.00 C795.00,2586.00 835.00,2586.00 875.00,2586.00 C880.00,2586.00 885.00,2588.29 890.00,2590.00 C896.67,2592.29 903.33,2596.67 910.00,2600.00 C916.67,2603.33 923.33,2608.74 930.00,2610.00 C940.00,2611.88 950.00,2611.79 960.00,2613.30 C967.30,2614.40 974.60,2617.40 981.90,2618.30 C988.50,2619.12 995.10,2619.00 1001.70,2620.00 C1006.10,2620.67 1010.50,2624.12 1014.90,2626.00 C1022.20,2629.11 1029.50,2634.70 1036.80,2634.70 C1042.30,2634.70 1047.80,2633.72 1053.30,2632.50 C1058.77,2631.28 1064.23,2626.98 1069.70,2621.60 C1072.63,2618.71 1075.57,2613.29 1078.50,2607.30 C1081.07,2602.06 1083.63,2593.16 1086.20,2586.50 C1088.40,2580.79 1090.60,2576.30 1092.80,2570.00 C1094.30,2565.70 1095.80,2561.40 1097.30,2555.20 C1098.80,2549.00 1100.30,2535.74 1101.80,2530.20 C1103.53,2523.80 1105.27,2519.20 1107.00,2516.00 C1108.67,2512.92 1110.33,2511.79 1112.00,2509.00 C1113.00,2507.33 1114.00,2506.35 1115.00,2503.00 C1115.83,2500.21 1116.67,2487.09 1117.50,2480.00 C1119.00,2467.24 1120.50,2458.13 1122.00,2444.90 C1123.00,2436.08 1124.00,2421.03 1125.00,2415.00 C1125.83,2409.97 1126.67,2404.00 1127.50,2404.00 C1128.67,2404.00 1129.83,2407.28 1131.00,2410.00 C1132.33,2413.11 1133.67,2419.65 1135.00,2425.00 C1136.53,2431.15 1138.07,2436.03 1139.60,2444.90 C1140.97,2452.80 1142.33,2470.76 1143.70,2480.00 C1145.20,2490.14 1146.70,2498.08 1148.20,2505.00 C1150.37,2515.00 1152.53,2522.77 1154.70,2530.20 C1157.43,2539.57 1160.17,2549.57 1162.90,2555.20 C1165.60,2560.76 1168.30,2564.76 1171.00,2567.80 C1175.40,2572.75 1179.80,2577.76 1184.20,2579.00 C1189.47,2580.48 1194.73,2580.50 1200.00,2581.60 C1209.17,2583.51 1218.33,2590.00 1227.50,2590.00 C1233.33,2590.00 1239.17,2586.00 1245.00,2586.00 C1256.67,2586.00 1268.33,2586.34 1280.00,2586.70 C1297.23,2587.23 1314.47,2590.50 1331.70,2591.00 C1348.93,2591.50 1366.17,2591.90 1383.40,2591.90 C1390.27,2591.90 1397.13,2591.00 1404.00,2591.00 C1414.40,2591.00 1424.80,2598.80 1435.20,2598.80 C1443.23,2598.80 1451.27,2594.12 1459.30,2593.60 C1466.20,2593.16 1473.10,2593.07 1480.00,2592.80" stroke="#b078de"/>
<path d="M140.0,2347.0 C145.00,2345.00 150.00,2343.37 155.00,2341.00 C159.63,2338.81 164.27,2333.00 168.90,2333.00 C172.67,2333.00 176.43,2340.00 180.20,2340.00 C188.53,2340.00 196.87,2336.50 205.20,2336.50 C217.77,2336.50 230.33,2345.00 242.90,2345.00 C255.43,2345.00 267.97,2342.47 280.50,2341.40 C297.20,2339.98 313.90,2337.60 330.60,2337.60 C338.97,2337.60 347.33,2338.90 355.70,2338.90 C364.07,2338.90 372.43,2335.91 380.80,2335.10 C403.87,2332.86 426.93,2331.47 450.00,2330.60 C476.67,2329.59 503.33,2329.18 530.00,2328.50 C563.33,2327.65 596.67,2326.99 630.00,2326.00 C661.67,2325.06 693.33,2322.50 725.00,2322.50 C730.00,2322.50 735.00,2329.00 740.00,2329.00 C745.00,2329.00 750.00,2322.50 755.00,2322.50 C775.00,2322.50 795.00,2322.50 815.00,2322.50 C835.00,2322.50 855.00,2322.92 875.00,2324.00 C880.00,2324.27 885.00,2325.84 890.00,2327.50 C896.67,2329.72 903.33,2335.60 910.00,2340.00 C916.67,2344.40 923.33,2351.54 930.00,2354.00 C936.67,2356.46 943.33,2357.63 950.00,2359.00 C956.67,2360.37 963.33,2361.12 970.00,2362.50 C978.33,2364.23 986.67,2366.07 995.00,2369.00 C1003.33,2371.93 1011.67,2378.58 1020.00,2382.50 C1027.33,2385.95 1034.67,2391.70 1042.00,2391.70 C1046.33,2391.70 1050.67,2388.33 1055.00,2385.00 C1057.33,2383.21 1059.67,2378.82 1062.00,2376.00 C1064.33,2373.18 1066.67,2371.56 1069.00,2368.00 C1071.07,2364.84 1073.13,2359.66 1075.20,2354.00 C1077.43,2347.88 1079.67,2339.62 1081.90,2330.50 C1083.53,2323.83 1085.17,2315.00 1086.80,2307.00 C1088.37,2299.33 1089.93,2292.54 1091.50,2283.50 C1092.67,2276.76 1093.83,2269.11 1095.00,2260.00 C1096.90,2245.17 1098.80,2223.33 1100.70,2205.00 C1102.60,2186.67 1104.50,2167.62 1106.40,2150.00 C1108.27,2132.69 1110.13,2121.19 1112.00,2100.00 C1113.33,2084.86 1114.67,2059.34 1116.00,2040.00 C1117.67,2015.83 1119.33,1994.17 1121.00,1970.00 C1122.33,1950.66 1123.67,1922.92 1125.00,1910.00 C1126.25,1897.88 1127.50,1883.00 1128.75,1883.00 C1130.17,1883.00 1131.58,1898.33 1133.00,1910.00 C1134.67,1923.73 1136.33,1947.69 1138.00,1970.00 C1139.33,1987.85 1140.67,2010.00 1142.00,2030.00 C1143.33,2050.00 1144.67,2071.96 1146.00,2090.00 C1147.63,2112.10 1149.27,2133.66 1150.90,2150.00 C1152.27,2163.68 1153.63,2175.08 1155.00,2185.00 C1156.47,2195.65 1157.93,2203.53 1159.40,2212.70 C1160.87,2221.87 1162.33,2232.90 1163.80,2240.00 C1165.77,2249.52 1167.73,2256.85 1169.70,2263.00 C1172.77,2272.59 1175.83,2281.25 1178.90,2286.40 C1182.63,2292.67 1186.37,2296.94 1190.10,2300.20 C1195.13,2304.60 1200.17,2306.54 1205.20,2310.20 C1209.37,2313.23 1213.53,2317.06 1217.70,2320.20 C1220.63,2322.41 1223.57,2326.50 1226.50,2326.50 C1229.67,2326.50 1232.83,2325.49 1236.00,2325.00 C1239.53,2324.45 1243.07,2323.40 1246.60,2323.40 C1252.87,2323.40 1259.13,2323.40 1265.40,2323.40 C1276.93,2323.40 1288.47,2326.49 1300.00,2327.80 C1315.17,2329.52 1330.33,2332.40 1345.50,2332.40 C1358.13,2332.40 1370.77,2329.00 1383.40,2329.00 C1390.30,2329.00 1397.20,2329.34 1404.10,2329.80 C1414.47,2330.49 1424.83,2341.00 1435.20,2341.00 C1443.23,2341.00 1451.27,2335.98 1459.30,2335.00 C1466.20,2334.16 1473.10,2333.87 1480.00,2333.30" stroke="#cc9900"/>
</g>
<line x1="880.0" y1="2271.5" x2="880.0" y2="3094.0" stroke="#505050" stroke-width="6.8" stroke-dasharray="15.60 9.60" stroke-dashoffset="0.00"/>
<line x1="1102.5" y1="2477.5" x2="1102.5" y2="3094.0" stroke="#505050" stroke-width="6.8" stroke-dasharray="15.60 9.60" stroke-dashoffset="3.30"/>
<line x1="1131.3" y1="1842.5" x2="1131.3" y2="3107.5" stroke="#505050" stroke-width="6.8" stroke-dasharray="15.60 9.60" stroke-dashoffset="9.50"/>
<line x1="1242.5" y1="2282.5" x2="1242.5" y2="3105.0" stroke="#505050" stroke-width="6.8" stroke-dasharray="15.60 9.60" stroke-dashoffset="0.00"/>
<line x1="1401.6" y1="2304.0" x2="1401.6" y2="3102.4" stroke="#505050" stroke-width="6.8" stroke-dasharray="15.60 9.60" stroke-dashoffset="24.00"/>
<line x1="1460.5" y1="2254.0" x2="1460.5" y2="3102.4" stroke="#505050" stroke-width="6.8" stroke-dasharray="15.60 9.60" stroke-dashoffset="0.00"/>
<path d="M125,1663H1494V3160H125Z M139.5,1673V3147H1480.3V1673Z" fill="#000" fill-rule="evenodd"/>
<rect x="318.6" y="3141" width="14" height="6" fill="#000"/>
<rect x="512.2" y="3141" width="14" height="6" fill="#000"/>
<rect x="705.7" y="3141" width="14" height="6" fill="#000"/>
<rect x="899.3" y="3141" width="14" height="6" fill="#000"/>
<rect x="1092.9" y="3141" width="14" height="6" fill="#000"/>
<rect x="1286.5" y="3141" width="14" height="6" fill="#000"/>
<text x="132.0" y="3205.0" font-size="46" text-anchor="middle" letter-spacing="0.6">2400</text>
<text x="325.6" y="3205.0" font-size="46" text-anchor="middle" letter-spacing="0.6">2200</text>
<text x="519.2" y="3205.0" font-size="46" text-anchor="middle" letter-spacing="0.6">2000</text>
<text x="712.7" y="3205.0" font-size="46" text-anchor="middle" letter-spacing="0.6">1800</text>
<text x="906.3" y="3205.0" font-size="46" text-anchor="middle" letter-spacing="0.6">1600</text>
<text x="1099.9" y="3205.0" font-size="46" text-anchor="middle" letter-spacing="0.6">1400</text>
<text x="1293.5" y="3205.0" font-size="46" text-anchor="middle" letter-spacing="0.6">1200</text>
<text x="1487.1" y="3205.0" font-size="46" text-anchor="middle" letter-spacing="0.6">1000</text>
<text x="11.0" y="1743.0" font-size="61" letter-spacing="2.7">(b)</text>
<text x="169" y="1742" font-size="46">NO + O<tspan font-size="30" dy="12">2</tspan></text>
<text x="155" y="2305.7" font-size="46">NO<tspan font-size="30" dy="13">2</tspan><tspan font-size="30" dx="-15" dy="-32">+</tspan></text>
<text x="994.5" y="2314.0" font-size="46" text-anchor="middle">1508</text>
<text transform="translate(899.0 2265.5) rotate(-90)" font-size="46">1623</text>
<text transform="translate(1112.5 2468.0) rotate(-90)" font-size="46">1397</text>
<text transform="translate(1150.8 1830.5) rotate(-90)" font-size="46">1368</text>
<text transform="translate(1262.5 2275.5) rotate(-90)" font-size="46">1254</text>
<text transform="translate(1417.9 2293.2) rotate(-90)" font-size="46">1083</text>
<text transform="translate(1471.7 2245.0) rotate(-90)" font-size="46">1026</text>
<rect x="1602" y="1683" width="14" height="187" fill="#000"/>
<text x="1528.0" y="1786.0" font-size="46">0.5</text>
<text x="1510.0" y="2351.7" font-size="46" fill="#cc9900">400</text><text x="1591.0" y="2333.0" font-size="31" fill="#cc9900">o</text><text x="1606.3" y="2352.2" font-size="49" fill="#cc9900">C</text>
<text x="1510.0" y="2607.4" font-size="46" fill="#b078de">350</text><text x="1591.0" y="2588.7" font-size="31" fill="#b078de">o</text><text x="1606.3" y="2607.9" font-size="49" fill="#b078de">C</text>
<text x="1510.0" y="2726.5" font-size="46" fill="#36ad6b">300</text><text x="1591.0" y="2707.8" font-size="31" fill="#36ad6b">o</text><text x="1606.3" y="2727.0" font-size="49" fill="#36ad6b">C</text>
<text x="1510.0" y="2827.7" font-size="46" fill="#1a6ee0">250</text><text x="1591.0" y="2809.0" font-size="31" fill="#1a6ee0">o</text><text x="1606.3" y="2828.2" font-size="49" fill="#1a6ee0">C</text>
<text x="1510.0" y="2943.6" font-size="46" fill="#f04040">200</text><text x="1591.0" y="2924.9" font-size="31" fill="#f04040">o</text><text x="1606.3" y="2944.1" font-size="49" fill="#f04040">C</text>
<text x="1510.0" y="3043.9" font-size="46" fill="#505050">150</text><text x="1591.0" y="3025.2" font-size="31" fill="#505050">o</text><text x="1606.3" y="3044.4" font-size="49" fill="#505050">C</text>
<text x="562" y="3297.3" font-size="58">Wavenumber (cm<tspan font-size="37" dx="-3" dy="-24.5">−1</tspan><tspan dy="24.5">)</tspan></text>
<text transform="translate(52 2668) rotate(-90)" font-size="57">Kubelka-Munk (a.u.)</text>
</svg></body></html>
